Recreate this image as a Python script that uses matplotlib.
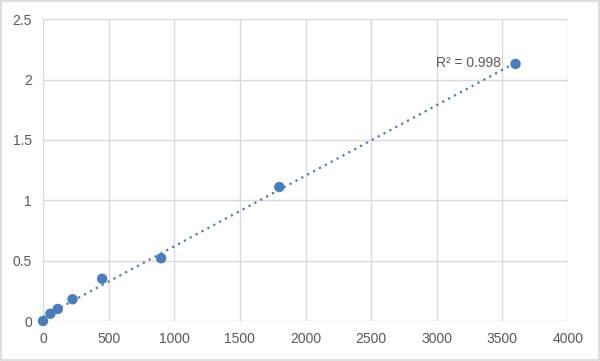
import numpy as np
import matplotlib
matplotlib.use('Agg')
import matplotlib.pyplot as plt

plt.rcParams['font.family'] = ['Liberation Sans', 'DejaVu Sans']

conc = [0, 56.25, 112.5, 225, 450, 900, 1800, 3600]
od = [0.0, 0.06, 0.10, 0.18, 0.35, 0.52, 1.11, 2.13]
r2_label = 'R² = 0.998'

blue = '#4a7ebb'
grid_c = '#d9d9d9'
text_c = '#595959'

fig = plt.figure(figsize=(6, 3.61), dpi=100)
ax = fig.add_axes([0.0717, 0.1108, 0.875, 0.836])

# linear trendline
k, b = np.polyfit(conc, od, 1)
xs = np.array([0, max(conc)])
ax.plot(xs, k * xs + b, linestyle=(0, (1, 2)), color=blue, linewidth=1.6, zorder=2)
ax.scatter(conc, od, s=56, color=blue, zorder=3, edgecolors='none', clip_on=False)

ax.set_xlim(0, 4000)
ax.set_ylim(0, 2.5)
ax.set_xticks(range(0, 4001, 500))
ax.set_yticks([0, 0.5, 1, 1.5, 2, 2.5])
ax.set_yticklabels(['0', '0.5', '1', '1.5', '2', '2.5'])
ax.grid(True, color=grid_c, linewidth=1)
ax.set_axisbelow(True)
for s in ax.spines.values():
    s.set_visible(False)
ax.tick_params(length=0, colors=text_c, labelsize=10, pad=8)

ax.text(3490, 2.14, r2_label, ha='right', va='center', fontsize=10, color=text_c)

# outer border
fig.patches.append(plt.Rectangle((0.002, 0.003), 0.996, 0.994, transform=fig.transFigure,
                                 fill=False, edgecolor='#d9d9d9', linewidth=1.2))

plt.savefig('out.png', dpi=100)
